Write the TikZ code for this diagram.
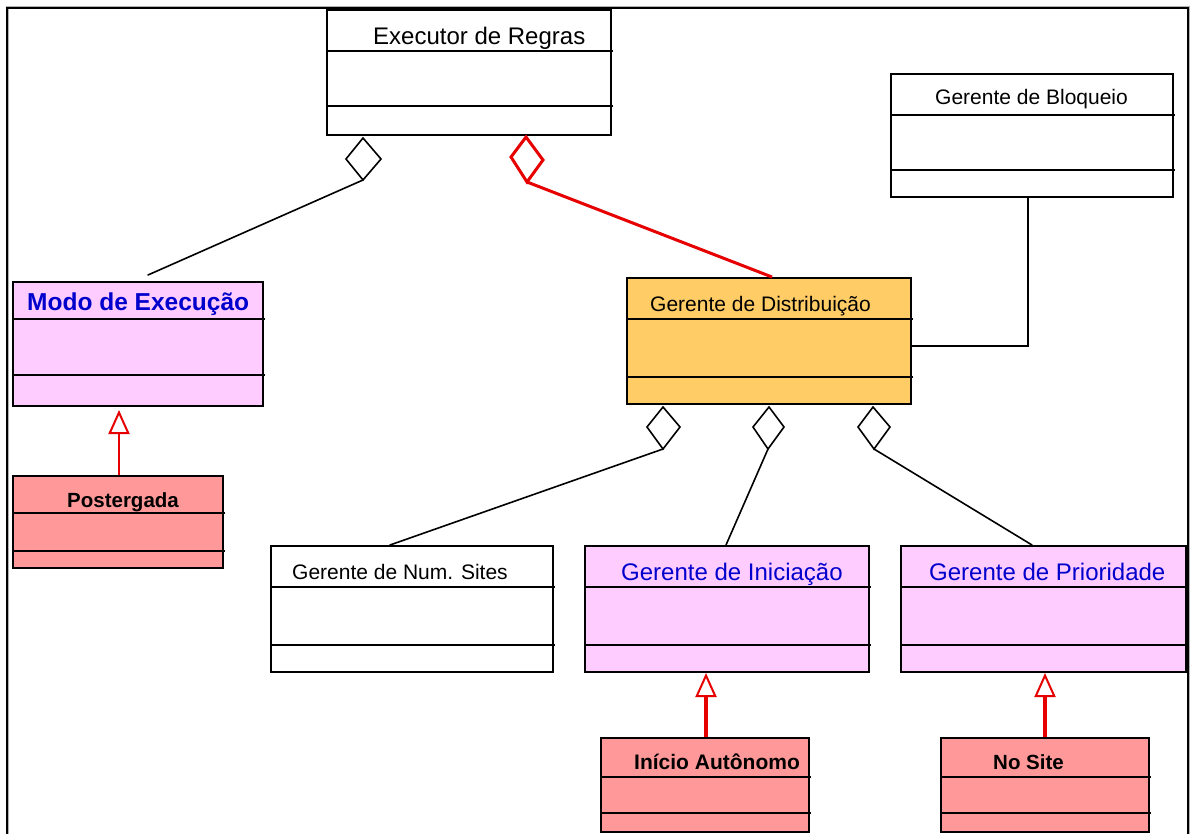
\documentclass[tikz,border=0pt]{standalone}
\usepackage{fontspec}
\setmainfont{Liberation Sans}
\usetikzlibrary{arrows.meta}
\definecolor{umlpink}{RGB}{255,204,255}
\definecolor{umlsalmon}{RGB}{255,153,153}
\definecolor{umlorange}{RGB}{255,204,102}
\definecolor{umlblue}{RGB}{0,0,204}
\definecolor{umlred}{RGB}{230,0,0}
\tikzset{
  classbox/.style={draw=black, line width=2pt, inner sep=0pt, anchor=north west},
  divider/.style={line width=1.8pt},
  link/.style={line width=1.6pt, line cap=round},
  agg/.style={draw=black, fill=white, line width=1.6pt, line join=miter},
  redagg/.style={draw=umlred, fill=white, line width=3pt, line join=miter},
  redlink/.style={draw=umlred, line width=3pt},
  gen/.style={draw=umlred, line width=#1,
    -{Triangle[width=21pt, length=24pt, fill=white, line width=2pt]}},
  gen/.default=2pt,
  title/.style={anchor=base west, inner sep=0pt, font=\fontsize{21}{21}\selectfont},
  bigtitle/.style={title, font=\fontsize{24}{24}\selectfont},
}
% name, left x, top y, width, height, first divider y, second divider y, fill
\newcommand\umlclass[8]{%
  \node[classbox, fill=#8, minimum width=#4pt, minimum height=#5pt] (#1) at (#2,#3) {};
  \draw[divider] (#2,#6) -- (#2+#4+3,#6);
  \draw[divider] (#2,#7) -- (#2+#4+3,#7);
}
\begin{document}
\begin{tikzpicture}[x=1pt, y=-1pt]
\useasboundingbox (0,0) rectangle (1191,834);
\fill[white] (0,0) rectangle (1191,834);

% outer frame, open at the bottom
\draw[gray!60, line width=3pt] (7,834) -- (7,8) -- (1188,8) -- (1188,834);
\draw[black, line width=1.5pt] (7,834) -- (7,8) -- (1188,8) -- (1188,834);

% classes
\umlclass{exec}{326}{9}{284}{125}{51}{106}{white}
\umlclass{bloq}{890}{73}{282}{123}{115}{170}{white}
\umlclass{modo}{12}{281}{250}{124}{319}{375}{umlpink}
\umlclass{post}{12}{475}{210}{92}{513}{551}{umlsalmon}
\umlclass{dist}{626}{277}{284}{126}{319}{377}{umlorange}
\umlclass{nums}{270}{545}{282}{126}{587}{645}{white}
\umlclass{inic}{584}{545}{284}{126}{587}{645}{umlpink}
\umlclass{prio}{900}{545}{285}{126}{587}{645}{umlpink}
\umlclass{inau}{600}{737}{208}{94}{777}{813}{umlsalmon}
\umlclass{nosi}{940}{737}{208}{94}{777}{813}{umlsalmon}

% class names
\node[bigtitle] (exec-t) at (373,45) {Executor de Regras};
\node[title] (bloq-t) at (935,105) {Gerente de Bloqueio};
\node[bigtitle, text=umlblue, font=\fontsize{24.5}{24}\selectfont\bfseries] (modo-t) at (27,310) {Modo de Execução};
\node[title, font=\fontsize{20.5}{21}\selectfont\bfseries] (post-t) at (67,507) {Postergada};
\node[title] (dist-t) at (650,311) {Gerente de Distribuição};
\node[title] (nums-t) at (292,579) {Gerente de Num. Sites};
\node[bigtitle, text=umlblue] (inic-t) at (621,580) {Gerente de Iniciação};
\node[bigtitle, text=umlblue] (prio-t) at (929,580) {Gerente de Prioridade};
\node[title, font=\fontsize{21}{21}\selectfont\bfseries] (inau-t) at (634,769) {Início Autônomo};
\node[title, font=\fontsize{20.5}{21}\selectfont\bfseries] (nosi-t) at (993,769) {No Site};

% aggregation diamonds (top, right, bottom, left tips)
\coordinate (e1t) at (363,138); \coordinate (e1b) at (363,180);
\draw[agg] (e1t) -- (381,159) -- (e1b) -- (346,159) -- cycle;
\coordinate (e2t) at (526,137); \coordinate (e2b) at (527,182);
\draw[redagg] (e2t) -- (543,160) -- (e2b) -- (511,157) -- cycle;
\coordinate (d1t) at (663,407); \coordinate (d1b) at (663,449);
\draw[agg] (d1t) -- (680,427) -- (d1b) -- (647,427) -- cycle;
\coordinate (d2t) at (769,407); \coordinate (d2b) at (768,449);
\draw[agg] (d2t) -- (784,427) -- (d2b) -- (753,427) -- cycle;
\coordinate (d3t) at (873,407); \coordinate (d3b) at (874,449);
\draw[agg] (d3t) -- (890,427) -- (d3b) -- (858,427) -- cycle;

% aggregation links
\coordinate (modo-in) at (148,275);
\draw[link] (e1b) -- (modo-in);
\coordinate (dist-in) at (772,277);
\draw[redlink] (e2b) -- (dist-in);
\coordinate (nums-in) at (390,545);
\draw[link] (d1b) -- (nums-in);
\coordinate (inic-in) at (726,545);
\draw[link] (d2b) -- (inic-in);
\coordinate (prio-in) at (1032,545);
\draw[link] (d3b) -- (prio-in);

% association to Gerente de Bloqueio
\coordinate (bq) at (1028,346);
\draw[link, line cap=butt] (bloq.south -| bq) -- (bq) -- (dist.east |- bq);

% generalizations
\coordinate (g1) at (119,0);
\draw[gen] (post.north -| g1) -- ([yshift=-3pt]modo.south -| g1);
\coordinate (g2) at (706,0);
\draw[gen=4.5pt] (inau.north -| g2) -- (inic.south -| g2);
\coordinate (g3) at (1045,0);
\draw[gen=4.5pt] (nosi.north -| g3) -- (prio.south -| g3);
\end{tikzpicture}
\end{document}
